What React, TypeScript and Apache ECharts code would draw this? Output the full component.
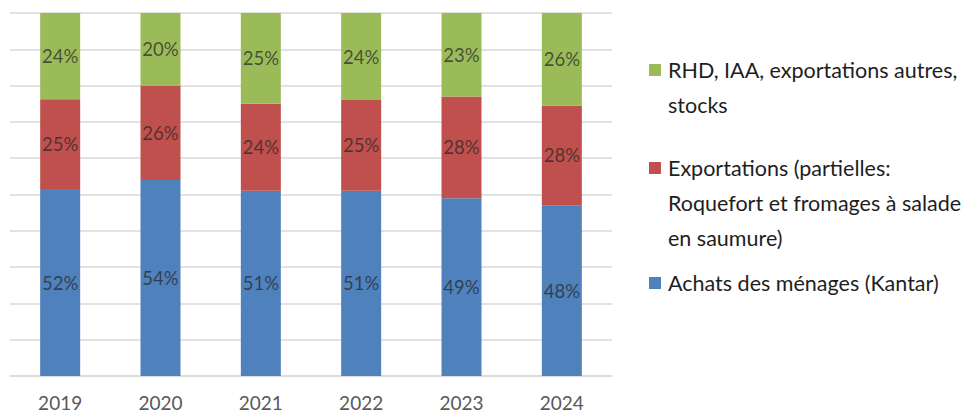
import React, { useEffect, useRef } from "react";
import * as echarts from "echarts";

const years = ["2019", "2020", "2021", "2022", "2023", "2024"];
const achats = [52, 54, 51, 51, 49, 48];
const exportsPart = [25, 26, 24, 25, 28, 28];
const rhd = [24, 20, 25, 24, 23, 26];

const seriesNames = [
  "Achats des ménages (Kantar)",
  "Exportations (partielles: Roquefort et fromages à salade en saumure)",
  "RHD, IAA, exportations autres, stocks",
];
const legendLines = [
  ["RHD, IAA, exportations autres,", "stocks"],
  ["Exportations (partielles:", "Roquefort et fromages à salade", "en saumure)"],
  ["Achats des ménages (Kantar)"],
];
const legendColors = ["#9BBB59", "#C0504D", "#4F81BD"];
const colors = ["#4F81BD", "#C0504D", "#9BBB59"];

const FONT = "Lato, 'Open Sans', sans-serif";

export default function App() {
  const ref = useRef<HTMLDivElement>(null);
  useEffect(() => {
    if (!ref.current) return;
    const chart = echarts.init(ref.current, undefined, { renderer: "svg" });
    const raw = [achats, exportsPart, rhd];
    const totals = years.map((_, i) => achats[i] + exportsPart[i] + rhd[i]);

    const lh = 35;
    const firstLineCenters = [70, 168, 283];
    const graphic: any[] = [];
    legendLines.forEach((lines, i) => {
      graphic.push({
        type: "rect",
        shape: { x: 649, y: firstLineCenters[i] - 6, width: 12, height: 12 },
        style: { fill: legendColors[i] },
      });
      graphic.push({
        type: "text",
        x: 668,
        y: firstLineCenters[i] - lh / 2,
        style: {
          text: lines.join("\n"),
          font: `21.5px ${FONT}`,
          lineHeight: lh,
          fill: "#1e1e1e",
          verticalAlign: "top",
        },
      });
    });

    chart.setOption({
      animation: false,
      grid: { left: 10, right: 361, top: 13, bottom: 38 },
      xAxis: {
        type: "category",
        data: years,
        axisLine: { lineStyle: { color: "#d9d9d9", width: 1.5 } },
        axisTick: { show: false },
        axisLabel: { color: "#595959", fontSize: 19, fontFamily: FONT, margin: 17 },
      },
      yAxis: {
        type: "value",
        min: 0,
        max: 100,
        interval: 10,
        axisLabel: { show: false },
        axisLine: { show: false },
        axisTick: { show: false },
        splitLine: { lineStyle: { color: "#d9d9d9", width: 1.5 } },
      },
      graphic,
      series: raw.map((arr, s) => ({
        name: seriesNames[s],
        type: "bar",
        stack: "total",
        barWidth: 40,
        itemStyle: { color: colors[s] },
        label: {
          show: true,
          position: "inside",
          formatter: (p: any) => `${arr[p.dataIndex]}%`,
          color: "rgba(38,38,38,0.72)",
          fontSize: 18.5,
          fontFamily: FONT,
        },
        data: arr.map((v, i) => (v / totals[i]) * 100),
      })),
    });
    return () => chart.dispose();
  }, []);
  return (
    <div
      ref={ref}
      style={{ position: "fixed", left: 0, top: 0, width: 973, height: 414, background: "#fff" }}
    />
  );
}
